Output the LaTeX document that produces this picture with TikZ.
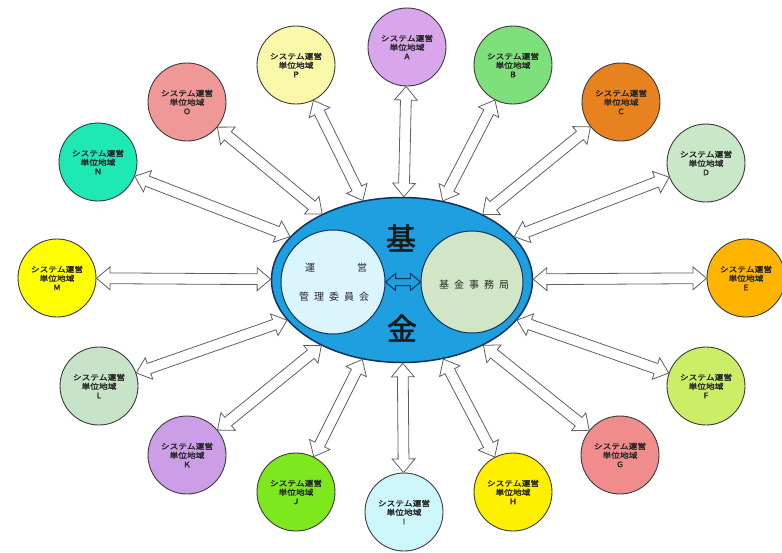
\documentclass[tikz,border=0pt]{standalone}
\usepackage{fontspec}
\setmainfont{Noto Sans CJK JP}
\newfontfamily\cjks[FakeStretch=1.15,FakeBold=2]{Noto Sans CJK JP}
\newfontfamily\cjkl[LetterSpace=50]{Noto Sans CJK JP}
\newfontfamily\cjkb[FakeBold=2]{Noto Sans CJK JP}
\usetikzlibrary{shapes.geometric,shapes.arrows,calc}
\definecolor{cA}{HTML}{D9A6EC}
\definecolor{cB}{HTML}{7EE07A}
\definecolor{cC}{HTML}{E8821E}
\definecolor{cD}{HTML}{C8E8C8}
\definecolor{cE}{HTML}{FFB400}
\definecolor{cF}{HTML}{CCEE66}
\definecolor{cG}{HTML}{F08C8C}
\definecolor{cH}{HTML}{FFF000}
\definecolor{cI}{HTML}{CCF6FA}
\definecolor{cJ}{HTML}{7EE81E}
\definecolor{cK}{HTML}{CC9EE8}
\definecolor{cL}{HTML}{C8E4C8}
\definecolor{cM}{HTML}{FFFF00}
\definecolor{cN}{HTML}{1EE8B4}
\definecolor{cO}{HTML}{F09898}
\definecolor{cP}{HTML}{F8F8A8}
\definecolor{ellblue}{HTML}{1E9FE0}
\definecolor{ellline}{HTML}{12325A}
\definecolor{ringline}{HTML}{3A3A3A}
\definecolor{arrline}{HTML}{606060}
\definecolor{jimufill}{HTML}{D0E6C6}
\definecolor{kanrifill}{HTML}{DAF6FC}
\tikzset{
  region/.style={circle, draw=ringline, line width=0.9pt, minimum size=78pt, inner sep=0pt,
    align=center, text=black!85, font=\cjks\fontsize{7.6}{9}\selectfont},
  bigarrow/.style={double arrow, draw=arrline, fill=white, line width=0.8pt, inner sep=0pt,
    text height=5pt, text depth=5pt, text width=0pt, minimum width=0pt,
    double arrow head extend=6pt, double arrow tip angle=80},
  smallarrow/.style={double arrow, draw=ellline, fill=ellblue, line width=1pt, inner sep=0pt,
    text height=3pt, text depth=3pt, text width=0pt, minimum width=0pt,
    double arrow head extend=5pt, double arrow tip angle=80},
  innertext/.style={font=\cjkl\fontsize{10}{12}\selectfont, text=black!85, inner sep=0pt},
  bigchar/.style={font=\cjkb\fontsize{30}{32}\selectfont, text=black!90, inner sep=0pt}
}
\newcommand\linkarrow[3]{%
  \path (#1) -- (#2) coordinate[pos=0] (#1-s) coordinate[pos=1] (#1-t);
  \path let \p1=(#1-s), \p2=(#1-t), \n2={veclen(\x2-\x1,\y2-\y1)} in
    (#1-s) -- (#1-t) node[#3, sloped, midway, minimum height=\n2] {};}
\begin{document}
\begin{tikzpicture}[x=1pt,y=-1pt]
\useasboundingbox (0,0) rectangle (782,552);
% center
\node[ellipse, draw=ellline, line width=1.5pt, fill=ellblue, minimum width=261pt, minimum height=165pt, inner sep=0pt] (ell) at (402,280) {};
\node[circle, draw=ellline, line width=1pt, fill=kanrifill, minimum size=104pt, inner sep=0pt] (kanri) at (333,282) {};
\node[circle, draw=ellline, line width=1pt, fill=jimufill, minimum size=102pt, inner sep=0pt] (jimu) at (472,282) {};
\node[innertext] (un) at (310,268) {運};
\node[innertext] (ei) at (362,268) {営};
\node[innertext] (kan) at (334,297) {管理委員会};
\node[innertext] (jim) at (474,285) {基金事務局};
\node[bigchar] (ki) at (401,238) {基};
\node[bigchar] (kin) at (402,328) {金};
\linkarrow{kanri}{jimu}{smallarrow}
% regions
\node[region, fill=cA] (A) at (407,47) {システム運営\\単位地域\\A};
\node[region, fill=cB] (B) at (513,65) {システム運営\\単位地域\\B};
\node[region, fill=cC] (C) at (621,102) {システム運営\\単位地域\\C};
\node[region, fill=cD] (D) at (706,163) {システム運営\\単位地域\\D};
\node[region, fill=cE] (E) at (746,278) {システム運営\\単位地域\\E};
\node[region, fill=cF] (F) at (706,386) {システム運営\\単位地域\\F};
\node[region, fill=cG] (G) at (620,455) {システム運営\\単位地域\\G};
\node[region, fill=cH] (H) at (513,492) {システム運営\\単位地域\\H};
\node[region, fill=cI] (I) at (404,512) {システム運営\\単位地域\\I};
\node[region, fill=cJ] (J) at (296,492) {システム運営\\単位地域\\J};
\node[region, fill=cK] (K) at (187,455) {システム運営\\単位地域\\K};
\node[region, fill=cL] (L) at (99,386) {システム運営\\単位地域\\L};
\node[region, fill=cM] (M) at (57,278) {システム運営\\単位地域\\M};
\node[region, fill=cN] (N) at (98,162) {システム運営\\単位地域\\N};
\node[region, fill=cO] (O) at (187,102) {システム運営\\単位地域\\O};
\node[region, fill=cP] (P) at (296,65) {システム運営\\単位地域\\P};
% arrows
\foreach \r in {A,B,C,D,E,F,G,H,I,J,K,L,M,N,O,P}{\linkarrow{\r}{ell}{bigarrow}}
\end{tikzpicture}
\end{document}
